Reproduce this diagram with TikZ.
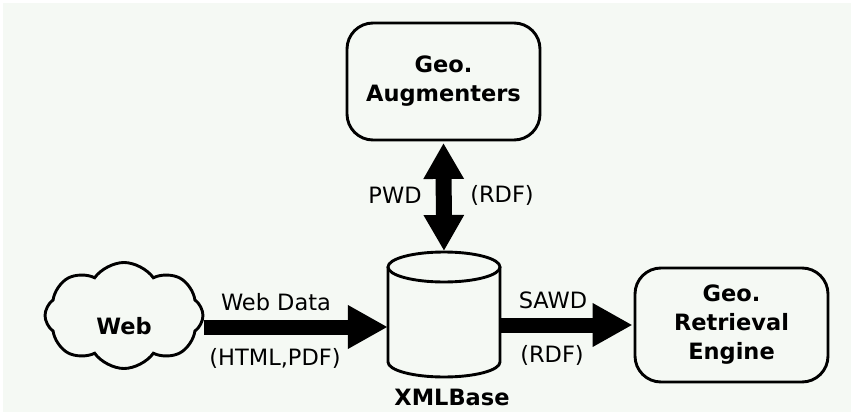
\documentclass[tikz,border=0pt]{standalone}
\usepackage{fontspec}
\setmainfont{DejaVu Sans}
\usetikzlibrary{arrows.meta,shapes.symbols,calc}
\definecolor{bg}{HTML}{F5F9F4}
\begin{document}
\begin{tikzpicture}[x=1pt,y=1pt,
  box/.style={draw, line width=2.9pt, rounded corners=26pt, align=center,
    font=\fontsize{22.5}{29}\selectfont\bfseries, inner sep=0pt},
  lbl/.style={font=\fontsize{22.5}{26}\selectfont, inner sep=0pt},
  fat/.style={line width=15pt, -{Triangle[length=40pt,width=41pt]}},
  dfat/.style={line width=16pt, {Triangle[length=36pt,width=38pt]}-{Triangle[length=36pt,width=38pt]}}]
\useasboundingbox (0,0) rectangle (851,-412);
\fill[white] (0,0) rectangle (851,-412);
\fill[bg] (3,-3) rectangle (851,-412);

% nodes
\node[box, minimum width=193pt, minimum height=117pt] (aug) at (443.5,-81.5) {Geo.\\Augmenters};
\node[box, minimum width=193pt, minimum height=114pt] (ret) at (731.5,-325) {Geo.\\Retrieval\\Engine};
\node[cloud, draw, line width=2.9pt, cloud puffs=8, cloud puff arc=110, aspect=1.5,
      minimum width=158pt, minimum height=106pt, inner sep=0pt,
      label={[font=\fontsize{22.5}{26}\selectfont\bfseries, yshift=-11pt]center:Web}] (web) at (124,-315.5) {};
\node[minimum width=112pt, minimum height=125pt, inner sep=0pt] (db) at (444,-314.5) {};
\draw[line width=2.9pt, fill=bg] (388,-267) -- (388,-362) arc (180:360:56pt and 15pt) -- (500,-267);
\draw[line width=2.9pt] (444,-267) ellipse (56pt and 15pt);
\node[font=\fontsize{22.5}{26}\selectfont\bfseries, inner sep=0pt] (dbl) at (452,-397) {XMLBase};

% connectors
\coordinate (wd) at (0,-327);
\coordinate (sd) at (0,-325);
\draw[fat] (web.east |- wd) -- (db.west |- wd);
\draw[fat] (db.east |- sd) -- ([xshift=-1pt]ret.west |- sd);
\draw[dfat] ([yshift=-1.5pt]aug.south) -- (444,-251);

% labels
\node[lbl] (l1) at (276,-302) {Web Data};
\node[lbl] (l2) at (275,-358) {(HTML,PDF)};
\node[lbl] (l3) at (395,-195) {PWD};
\node[lbl] (l4) at (502,-195) {(RDF)};
\node[lbl] (l5) at (553,-300) {SAWD};
\node[lbl] (l6) at (552,-355) {(RDF)};
\end{tikzpicture}
\end{document}
